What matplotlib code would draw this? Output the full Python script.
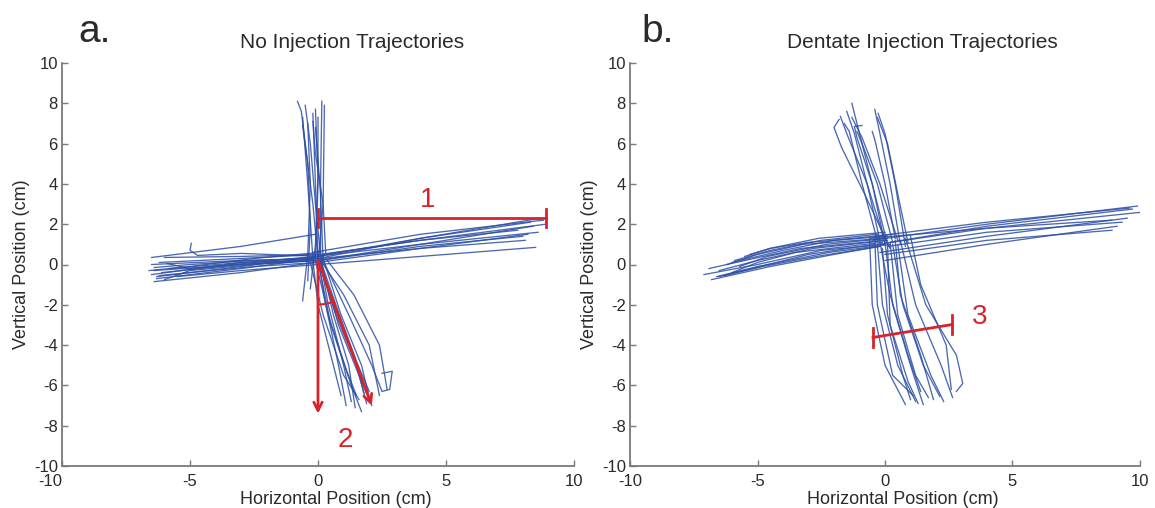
import numpy as np
import matplotlib
matplotlib.use("Agg")
import matplotlib.pyplot as plt
from matplotlib.patches import Arc

plt.rcParams['font.family'] = ['Liberation Sans', 'DejaVu Sans']
plt.rcParams['axes.unicode_minus'] = False

# ---- Dados das trajetórias (cm) ----
# Painel a: sem injeção
a_cima = [
    [(0.0, 0.3), (-0.2, 3.0), (-0.5, 6.0), (-0.65, 7.6), (-0.8, 8.1)],
    [(0.1, 0.4), (-0.1, 3.0), (-0.3, 6.0), (-0.5, 7.9)],
    [(0.0, 0.2), (-0.1, 4.0), (-0.2, 7.5)],
    [(-0.1, 0.3), (0.0, 4.0), (0.0, 7.3)],
    [(0.1, 0.5), (0.1, 4.0), (0.15, 8.1)],
    [(0.0, 0.0), (0.2, 3.0), (0.25, 7.9)],
    [(-0.2, 0.3), (-0.4, 4.0), (-0.6, 7.3)],
    [(0.2, 0.1), (0.1, 3.5), (-0.1, 6.8)],
    [(-0.6, -1.8), (-0.4, 0.5), (-0.3, 4.0), (-0.4, 7.0)],
    [(-0.3, -1.2), (-0.1, 1.0), (0.0, 4.5), (-0.1, 7.7)],
    [(0.3, 0.6), (0.2, 3.0), (-0.1, 5.5), (-0.2, 7.1)],
    [(-0.4, -0.8), (-0.3, 2.0), (-0.4, 5.0), (-0.6, 6.9)],
]
a_esquerda = [
    [(0.0, 0.3), (-3.0, 0.2), (-6.5, 0.0)],
    [(0.1, 0.2), (-3.0, 0.0), (-6.4, -0.3)],
    [(0.0, 0.4), (-3.0, -0.1), (-6.3, -0.6)],
    [(-0.1, 0.1), (-3.0, -0.4), (-6.4, -0.85)],
    [(0.0, 0.5), (-3.0, 0.4), (-6.0, 0.35)],
    [(0.1, 0.3), (-3.0, 0.0), (-6.1, -0.4)],
    [(0.0, 0.2), (-3.0, 0.1), (-5.8, -0.2)],
    [(0.2, 0.4), (-3.0, 0.1), (-6.5, -0.5)],
    [(0.0, 0.0), (-3.0, -0.3), (-5.5, -0.6)],
    [(0.1, 0.5), (-3.0, 0.3), (-6.2, 0.1)],
    [(0.0, 0.3), (-3.0, -0.2), (-6.3, -0.7)],
    [(0.2, 0.4), (-3.0, 0.55), (-4.7, 0.45), (-5.0, 0.7), (-4.95, 1.05)],
    [(-0.1, 1.5), (-3.0, 0.9), (-6.5, 0.35)],
    [(0.0, 0.1), (-2.5, -0.1), (-5.0, -0.4), (-6.2, -0.55)],
    [(0.1, 0.6), (-2.5, 0.3), (-5.0, -0.1), (-6.6, -0.3)],
    [(0.0, 0.2), (-2.5, 0.0), (-5.0, -0.3), (-6.0, -0.75)],
    [(0.2, 0.3), (-2.5, 0.2), (-5.0, 0.0), (-6.4, -0.15)],
    [(-0.1, 0.4), (-2.5, 0.1), (-5.0, -0.2), (-5.9, 0.05)],
]
a_direita = [
    [(0.0, 0.3), (4.0, 1.3), (8.7, 2.3)],
    [(0.1, 0.5), (4.0, 1.2), (8.9, 2.0)],
    [(0.0, 0.2), (4.0, 1.0), (8.4, 1.9)],
    [(-0.1, 0.4), (4.0, 1.0), (8.6, 1.6)],
    [(0.0, 0.1), (4.0, 0.8), (8.2, 1.5)],
    [(0.1, 0.3), (4.0, 0.8), (8.1, 1.2)],
    [(0.0, 0.0), (4.0, 0.4), (8.5, 0.85)],
    [(0.2, 0.5), (4.0, 1.2), (7.8, 1.7)],
    [(0.0, 0.4), (4.0, 1.3), (8.3, 2.1)],
    [(-0.2, 0.6), (4.0, 1.5), (8.8, 2.2)],
    [(0.1, 0.2), (4.0, 0.9), (8.0, 1.4)],
]
a_baixo = [
    [(0.0, 0.3), (0.3, -2.0), (0.8, -5.0), (1.1, -7.0)],
    [(-0.2, 0.2), (0.0, -2.0), (0.6, -5.0), (0.9, -6.5)],
    [(0.1, 0.3), (0.6, -2.5), (1.2, -5.0), (1.45, -7.1)],
    [(0.0, 0.2), (0.7, -2.5), (1.5, -5.0), (1.9, -6.9)],
    [(0.2, 0.3), (0.9, -2.5), (1.7, -5.0), (2.0, -6.6)],
    [(0.0, 0.4), (1.0, -1.5), (2.0, -4.0), (2.4, -6.5)],
    [(0.3, 0.3), (1.4, -1.5), (2.4, -4.0), (2.7, -6.2)],
    [(0.1, 0.1), (0.4, -2.0), (1.0, -5.0), (1.3, -6.8)],
    [(0.0, 0.2), (0.5, -3.0), (1.3, -6.0), (1.7, -7.3)],
    [(0.2, 0.2), (1.2, -2.5), (2.1, -5.0), (2.5, -6.3), (2.8, -6.2), (2.9, -5.3), (2.5, -5.4)],
    [(-0.3, 0.1), (0.2, -2.5), (1.0, -5.5), (1.6, -6.7)],
    [(0.1, 0.2), (0.8, -3.0), (1.6, -5.5), (2.1, -7.0)],
    [(0.0, 0.3), (0.6, -2.0), (1.4, -4.5), (1.8, -6.4)],
    [(0.1, 0.2), (0.7, -2.0), (1.5, -4.8), (2.0, -6.3)],
    [(-0.1, 0.2), (0.4, -2.5), (1.1, -5.2), (1.5, -6.5)],
]

# Painel b: injeção no denteado
b_cima = [
    [(0.0, 1.0), (-0.5, 4.0), (-1.0, 6.5), (-1.3, 8.0)],
    [(-0.2, 1.2), (-0.7, 4.0), (-1.2, 6.5), (-1.5, 7.6)],
    [(0.2, 0.8), (-0.8, 3.5), (-1.7, 5.8), (-2.0, 6.8), (-1.8, 7.2)],
    [(0.0, 1.1), (-0.7, 4.0), (-1.5, 6.5), (-1.75, 7.35)],
    [(0.6, 1.0), (0.2, 4.0), (-0.2, 6.5), (-0.4, 7.7)],
    [(0.8, 0.9), (0.4, 4.0), (0.0, 6.5), (-0.27, 7.5)],
    [(0.4, 1.3), (0.0, 4.0), (-0.4, 6.2), (-0.5, 6.6)],
    [(0.1, 1.0), (-0.5, 4.0), (-1.1, 6.3), (-1.2, 6.85), (-0.9, 6.9)],
    [(-0.3, 1.2), (-0.9, 4.0), (-1.4, 6.6), (-1.6, 7.0)],
    [(0.3, 1.1), (-0.3, 4.0), (-0.9, 6.0), (-1.1, 6.6)],
    [(0.5, 1.2), (-0.2, 4.0), (-0.9, 6.3), (-1.3, 7.3)],
    [(0.9, 1.1), (0.5, 3.5), (0.1, 6.0), (-0.3, 7.3)],
]
b_esquerda = [
    [(0.0, 1.0), (-2.5, 0.7), (-5.0, 0.0), (-7.1, -0.5)],
    [(-0.2, 0.9), (-2.0, 0.5), (-4.5, -0.1), (-6.8, -0.75)],
    [(0.1, 1.2), (-2.8, 0.8), (-5.0, 0.2), (-6.5, -0.3)],
    [(0.0, 1.3), (-3.2, 1.0), (-5.0, 0.5), (-6.2, 0.0)],
    [(-0.3, 1.5), (-2.5, 1.2), (-4.5, 0.7), (-5.9, 0.2)],
    [(0.2, 1.0), (-2.2, 0.6), (-5.0, -0.1), (-6.6, -0.6)],
    [(0.0, 1.6), (-2.6, 1.3), (-4.5, 0.8), (-5.5, 0.4)],
    [(-0.1, 1.1), (-3.5, 0.6), (-5.0, 0.1), (-6.0, -0.4)],
    [(0.1, 1.4), (-3.0, 1.1), (-4.5, 0.8), (-5.3, 0.5)],
    [(0.0, 1.2), (-3.3, 0.8), (-5.5, 0.2), (-6.9, -0.2)],
    [(-0.2, 0.9), (-2.7, 0.4), (-4.8, -0.1), (-6.3, -0.55)],
    [(0.1, 1.3), (-2.3, 1.0), (-4.6, 0.4), (-5.7, -0.1)],
    [(0.3, 1.5), (-2.0, 1.2), (-4.0, 0.7), (-6.0, 0.1)],
    [(-0.4, 1.0), (-3.0, 0.5), (-5.2, -0.2), (-6.5, -0.6)],
]
b_direita = [
    [(-0.5, 1.2), (4.0, 2.0), (9.9, 2.9)],
    [(-0.3, 1.0), (4.0, 1.8), (10.1, 2.6)],
    [(-0.6, 1.3), (4.0, 1.8), (8.9, 2.2)],
    [(0.0, 0.2), (4.0, 1.0), (9.1, 1.9)],
    [(-0.2, 0.6), (4.0, 1.4), (9.5, 2.3)],
    [(0.2, 1.1), (4.0, 1.9), (9.7, 2.75)],
    [(0.0, 0.5), (4.0, 1.2), (8.9, 1.7)],
    [(-0.4, 1.4), (4.0, 2.1), (9.6, 2.8)],
    [(0.1, 0.9), (4.0, 1.6), (9.3, 2.1)],
]
b_baixo = [
    [(-0.6, 1.2), (-0.5, -2.0), (0.0, -5.0), (0.8, -6.95)],
    [(-0.3, 1.0), (-0.1, -2.0), (0.5, -5.0), (1.2, -6.8)],
    [(0.0, 1.1), (0.3, -2.0), (1.0, -5.0), (1.5, -6.95)],
    [(0.3, 1.0), (0.7, -2.0), (1.5, -5.0), (2.15, -6.55)],
    [(0.6, 1.2), (1.2, -2.0), (2.2, -5.0), (2.65, -6.6)],
    [(0.8, 1.3), (1.6, -2.0), (2.8, -4.5), (3.05, -5.9), (2.8, -6.3)],
    [(-0.1, 0.8), (0.1, -2.5), (0.7, -5.5), (1.0, -6.7)],
    [(0.2, 1.1), (0.5, -2.5), (1.2, -5.5), (1.7, -6.6)],
    [(0.5, 1.0), (0.9, -2.5), (1.8, -5.5), (2.3, -6.8)],
    [(-0.4, 1.3), (-0.3, -2.0), (0.3, -5.5), (1.1, -6.5)],
    [(1.0, 1.4), (1.4, -1.0), (2.4, -4.0), (2.6, -6.2)],
    [(0.1, 1.0), (0.2, -3.0), (0.9, -5.8), (1.3, -6.9)],
    [(0.4, 1.2), (0.6, -1.5), (1.4, -4.5), (1.9, -6.7)],
    [(-0.2, 1.1), (0.2, -1.5), (0.9, -4.5), (1.4, -6.3)],
]

# Anotações em vermelho
barra1_x = [0.0, 8.9]
barra1_y = [2.3, 2.3]
seta_vertical = [(0.0, 0.2), (0.0, -7.4)]
seta_diagonal = [(0.0, 0.2), (2.1, -7.0)]
barra3_x = [-0.47, 2.63]
barra3_y = [-3.62, -2.98]

azul = '#2c4ea3'
vermelho = '#d8232a'
cinza = '#7a7a7a'
texto = '#2a2a2a'

fig = plt.figure(figsize=(11.55, 5.08), dpi=100, facecolor='white')
ax_a = fig.add_axes([62 / 1155, 42 / 508, 512 / 1155, 403 / 508])
ax_b = fig.add_axes([630 / 1155, 42 / 508, 510 / 1155, 403 / 508])


def desenha(ax, grupos, menos10_direita):
    for grupo in grupos:
        for traj in grupo:
            xs = [p[0] for p in traj]
            ys = [p[1] for p in traj]
            ax.plot(xs, ys, color=azul, linewidth=0.95, alpha=0.85, zorder=2,
                    solid_joinstyle='round')

    ax.set_xlim(-10, 10)
    ax.set_ylim(-10, 10)
    ax.set_xticks([-10, -5, 0, 5, 10])
    ax.set_yticks(np.arange(-10, 11, 2))
    ax.spines['top'].set_visible(False)
    ax.spines['right'].set_visible(False)
    for s in ['left', 'bottom']:
        ax.spines[s].set_color(cinza)
        ax.spines[s].set_linewidth(1.3)
    ax.tick_params(direction='in', length=4, width=1, color=cinza,
                   labelsize=12, labelcolor=texto)
    ax.tick_params(axis='x', pad=6)
    ax.tick_params(axis='y', pad=3)
    if menos10_direita:
        ax.get_xticklabels()[0].set_horizontalalignment('right')
    ax.set_xlabel('Horizontal Position (cm)', fontsize=13, color=texto)
    ax.xaxis.set_label_coords(0.535, -0.062)
    ax.set_ylabel('Vertical Position (cm)', fontsize=13, color=texto, labelpad=3)


desenha(ax_a, [a_cima, a_esquerda, a_direita, a_baixo], True)
desenha(ax_b, [b_cima, b_esquerda, b_direita, b_baixo], False)

# Barra "1"
ax_a.plot(barra1_x, barra1_y, color=vermelho, linewidth=2, zorder=4)
for xb in barra1_x:
    ax_a.plot([xb, xb], [barra1_y[0] - 0.45, barra1_y[0] + 0.45], color=vermelho, linewidth=2, zorder=4)
ax_a.text(4.3, 3.2, '1', color=vermelho, fontsize=20, ha='center', va='center', zorder=5)

# Setas "2"
for seta in [seta_vertical, seta_diagonal]:
    ax_a.annotate('', xy=seta[1], xytext=seta[0],
                  arrowprops=dict(arrowstyle='->,head_length=0.6,head_width=0.3',
                                  color=vermelho, lw=2, shrinkA=0, shrinkB=0), zorder=5)
ax_a.add_patch(Arc((0.0, 0.2), 3.44, 4.37, theta1=-90, theta2=-72,
                   color=vermelho, linewidth=1.5, zorder=5))
ax_a.text(1.05, -8.7, '2', color=vermelho, fontsize=20, ha='center', va='center', zorder=5)

# Barra "3"
ax_b.plot(barra3_x, barra3_y, color=vermelho, linewidth=2, zorder=4)
for xb, yb in zip(barra3_x, barra3_y):
    ax_b.plot([xb, xb], [yb - 0.45, yb + 0.45], color=vermelho, linewidth=2, zorder=4)
ax_b.text(3.7, -2.6, '3', color=vermelho, fontsize=20, ha='center', va='center', zorder=5)

# Títulos e letras dos painéis
fig.text(352 / 1155, 1 - 42 / 508, 'No Injection Trajectories', fontsize=15, color=texto,
         ha='center', va='center')
fig.text(922 / 1155, 1 - 42 / 508, 'Dentate Injection Trajectories', fontsize=15, color=texto,
         ha='center', va='center')
fig.text(95 / 1155, 1 - 32 / 508, 'a.', fontsize=28, color=texto, ha='center', va='center')
fig.text(658 / 1155, 1 - 32 / 508, 'b.', fontsize=28, color=texto, ha='center', va='center')

fig.savefig('out.png', dpi=100, facecolor='white')
plt.close(fig)
